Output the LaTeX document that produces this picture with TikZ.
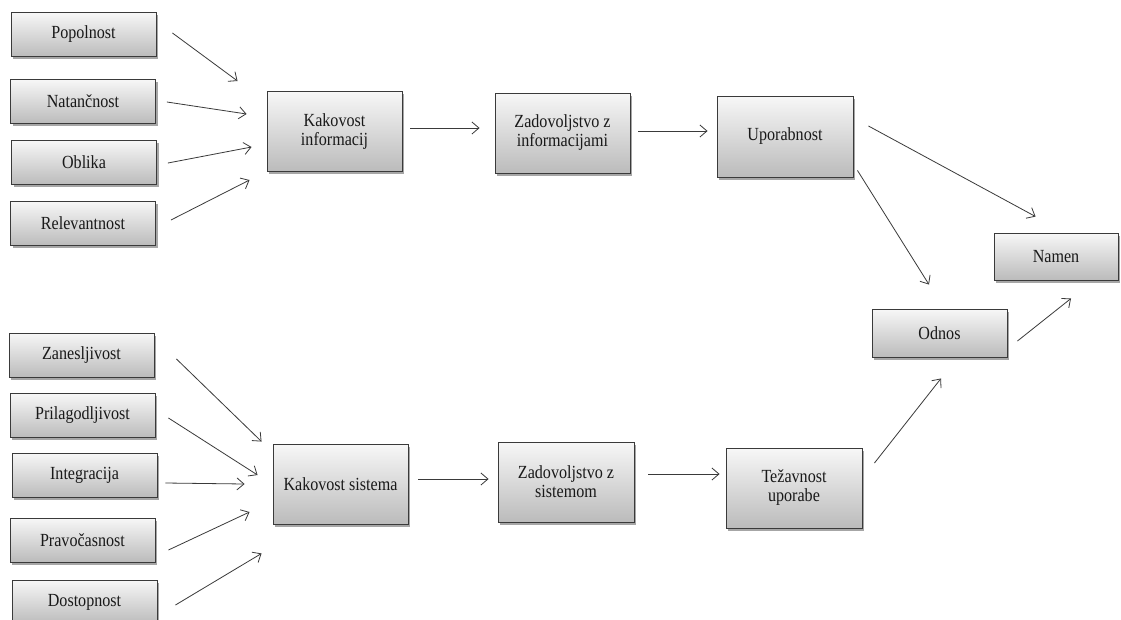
\documentclass[tikz,border=0pt]{standalone}
\usepackage{fontspec}
\setmainfont{Liberation Serif}[FakeStretch=0.87]
\usetikzlibrary{arrows.meta,calc,shadows}
\definecolor{edge}{HTML}{3A3A3A}
\definecolor{boxtop}{HTML}{F7F7F7}
\definecolor{boxbot}{HTML}{BBBBBB}
\tikzset{
  box/.style={rectangle, draw=edge, line width=0.9pt, top color=boxtop, bottom color=boxbot,
    align=center, inner sep=2pt, text=black!90,
    font=\fontsize{18.5}{19}\selectfont,
    drop shadow={shadow xshift=2.2pt, shadow yshift=-2.6pt, opacity=0.35, fill=black}},
  small/.style={box, minimum width=145pt, minimum height=44pt},
  big/.style={box, minimum width=136pt, minimum height=80pt},
  mid/.style={box, minimum width=135pt, minimum height=48pt},
  arr/.style={draw=edge, line width=0.8pt, -{Straight Barb[length=7pt,width=12pt,line width=0.8pt]}},
}
\begin{document}
\begin{tikzpicture}[x=1pt,y=-1pt]
\useasboundingbox[fill=white] (0,0) rectangle (1121,619);

% information quality inputs
\node[small] (pop) at (83.5,34.5) {Popolnost};
\node[small] (nat) at (83,101.5) {Natančnost};
\node[small] (obl) at (84,162.5) {Oblika};
\node[small] (rel) at (83,223.5) {Relevantnost};

% system quality inputs
\node[small] (zan) at (81.5,355) {Zanesljivost};
\node[small] (pri) at (82.5,415.5) {Prilagodljivost};
\node[small] (int) at (84.5,475) {Integracija};
\node[small] (pra) at (82.5,540) {Pravočasnost};
\node[small] (dos) at (84.5,602) {Dostopnost};

% main chain
\node[big, minimum width=135pt] (kinf) at (334.5,131.5) {Kakovost\\informacij};
\node[big, minimum width=135pt] (zinf) at (562.5,133) {Zadovoljstvo z\\informacijami};
\node[big, minimum height=81pt] (upo) at (785,136.5) {Uporabnost};
\node[big, minimum width=135pt] (ksis) at (340.5,484) {Kakovost sistema};
\node[big] (zsis) at (566,482) {Zadovoljstvo z\\sistemom};
\node[big] (tez) at (794,488) {Težavnost\\uporabe};
\node[mid] (odnos) at (939.5,333) {Odnos};
\node[mid, minimum width=124pt, minimum height=47pt] (namen) at (1056,256.5) {Namen};

% connector end points
\coordinate (a1s) at ($(pop.east)+(16,-1.5)$);  \coordinate (a1e) at ($(kinf.west)+(-29,-50.5)$);
\coordinate (a2s) at ($(nat.east)+(11,0.5)$);   \coordinate (a2e) at ($(kinf.west)+(-20,-17.5)$);
\coordinate (a3s) at ($(obl.east)+(11,0.5)$);   \coordinate (a3e) at ($(kinf.west)+(-15,15.5)$);
\coordinate (a4s) at ($(rel.east)+(15,-3.5)$);  \coordinate (a4e) at ($(kinf.west)+(-17,48.5)$);
\coordinate (a5s) at ($(kinf.east)+(8,-3.5)$);  \coordinate (a5e) at ($(zinf.west)+(-15,-5)$);
\coordinate (a6s) at ($(zinf.east)+(8,-2)$);    \coordinate (a6e) at ($(upo.west)+(-9,-5.5)$);
\coordinate (a7s) at ($(upo.east)+(15,-10.5)$); \coordinate (a7e) at ($(namen.north west)+(42,-16)$);
\coordinate (a8s) at ($(upo.south east)+(4,-7)$); \coordinate (a8e) at ($(odnos.north)+(-10.5,-24)$);
\coordinate (a9s) at ($(odnos.east)+(10,8)$);   \coordinate (a9e) at ($(namen.south)+(15,18)$);
\coordinate (b1s) at ($(zan.east)+(22,4)$);     \coordinate (b1e) at ($(ksis.north west)+(-11,-2)$);
\coordinate (b2s) at ($(pri.east)+(13,2.5)$);   \coordinate (b2e) at ($(ksis.west)+(-15,-9)$);
\coordinate (b3s) at ($(int.east)+(8,8)$);      \coordinate (b3e) at ($(ksis.west)+(-28,0)$);
\coordinate (b4s) at ($(pra.east)+(13,10)$);    \coordinate (b4e) at ($(ksis.west)+(-23,28)$);
\coordinate (b5s) at ($(dos.east)+(18,3)$);     \coordinate (b5e) at ($(ksis.south west)+(-11,29)$);
\coordinate (b6s) at ($(ksis.east)+(10,-5)$);   \coordinate (b6e) at ($(zsis.west)+(-9,-3)$);
\coordinate (b7s) at ($(zsis.east)+(14,-8)$);   \coordinate (b7e) at ($(tez.west)+(-6,-14)$);
\coordinate (b8s) at ($(tez.east)+(12,-25)$);   \coordinate (b8e) at ($(odnos.south)+(1.5,21)$);

% connectors
\foreach \c in {a1,a2,a3,a4,a5,a6,a7,a8,a9,b1,b2,b3,b4,b5,b6,b7,b8}
  \draw[arr] (\c s) -- (\c e);
\end{tikzpicture}
\end{document}
